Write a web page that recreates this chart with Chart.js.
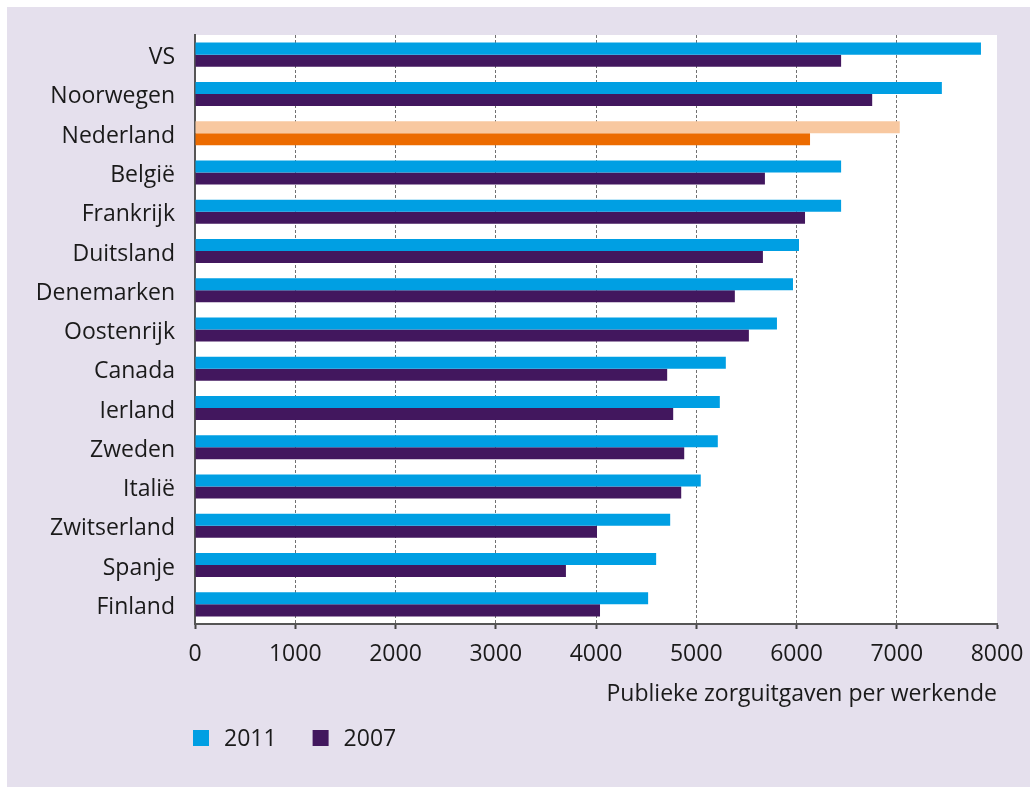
<!DOCTYPE html>
<html lang="nl">
<head>
  <meta charset="UTF-8">
  <title>Publieke zorguitgaven per werkende</title>
  <script src="https://cdn.jsdelivr.net/npm/chart.js"></script>
  <style>
    body {
      margin: 0;
      background: #fff;
      font-family: 'Open Sans', sans-serif;
    }

    /* lavender panel behind the chart */
    .panel {
      position: absolute;
      left: 7px;
      top: 7px;
      width: 1023px;
      height: 780px;
      background: #e5e0ed;
    }
  </style>
</head>
<body>
  <div class="panel">
    <canvas id="chart"></canvas>
  </div>

  <script>
    const countries = ['VS', 'Noorwegen', 'Nederland', 'België', 'Frankrijk', 'Duitsland', 'Denemarken',
      'Oostenrijk', 'Canada', 'Ierland', 'Zweden', 'Italië', 'Zwitserland', 'Spanje', 'Finland'];
    const values2011 = [7840, 7450, 7030, 6445, 6445, 6025, 5965, 5805, 5295, 5235, 5215, 5045, 4740, 4600, 4520];
    const values2007 = [6445, 6755, 6135, 5685, 6085, 5665, 5385, 5525, 4710, 4770, 4880, 4850, 4010, 3700, 4040];
    const axisTitle = 'Publieke zorguitgaven per werkende';
    const highlight = 'Nederland';

    const blue = '#009fe3', purple = '#42175e';
    const peach = '#f8c8a0', orange = '#ec6b00';
    const textColor = '#1a1a1a';
    const font = { family: "'Open Sans', sans-serif", size: 23 };

    // white plot area
    const plotBackground = {
      id: 'plotBackground',
      beforeDraw(chart) {
        const { ctx, chartArea: a } = chart;
        ctx.save();
        ctx.fillStyle = '#fff';
        ctx.fillRect(a.left, a.top, a.right - a.left, a.bottom - a.top);
        ctx.restore();
      }
    };

    // legend below the axis title, starting at the y axis
    const bottomLegend = {
      id: 'bottomLegend',
      afterDraw(chart) {
        const { ctx, chartArea: a } = chart;
        let x = a.left - 2;
        const y = a.bottom + 114;
        ctx.save();
        ctx.font = `${font.size}px ${font.family}`;
        ctx.textBaseline = 'middle';
        chart.data.datasets.forEach(ds => {
          ctx.fillStyle = ds.legendColor;
          ctx.fillRect(x, y - 8, 16, 16);
          ctx.fillStyle = textColor;
          ctx.fillText(ds.label, x + 31, y + 1);
          x += 31 + ctx.measureText(ds.label).width + 36;
        });
        ctx.restore();
      }
    };

    new Chart(document.getElementById('chart'), {
      type: 'bar',
      data: {
        labels: countries,
        datasets: [{
          label: '2011',
          data: values2011,
          legendColor: blue,
          backgroundColor: countries.map(c => c === highlight ? peach : blue)
        }, {
          label: '2007',
          data: values2007,
          legendColor: purple,
          backgroundColor: countries.map(c => c === highlight ? orange : purple)
        }]
      },
      options: {
        indexAxis: 'y',
        responsive: true,
        maintainAspectRatio: false,
        animation: false,
        categoryPercentage: 0.612,
        barPercentage: 1,
        layout: { padding: { top: 28, right: 33, left: 0, bottom: 73 } },
        plugins: {
          legend: { display: false },
          tooltip: { enabled: false }
        },
        scales: {
          x: {
            min: 0,
            max: 8000,
            afterFit(scale) {
              scale.height = 90;
              scale.paddingLeft = 0;
              scale.paddingRight = 0;
            },
            ticks: {
              stepSize: 1000,
              font: font,
              color: textColor,
              padding: 12,
              maxRotation: 0,
              callback: v => String(v)
            },
            grid: {
              color: c => (c.tick && (c.tick.value === 0 || c.tick.value === 8000)) ? 'rgba(0,0,0,0)' : '#707070',
              lineWidth: 1,
              tickColor: '#444',
              tickLength: 5,
              tickWidth: 2
            },
            border: { color: '#555', width: 2, dash: [3, 2] },
            title: {
              display: true,
              text: axisTitle,
              align: 'end',
              font: font,
              color: textColor,
              padding: { top: 0, bottom: 6 }
            }
          },
          y: {
            afterFit(scale) {
              scale.width = 188;
              scale.paddingTop = 0;
              scale.paddingBottom = 0;
            },
            ticks: { font: font, color: textColor, padding: 12, labelOffset: 3 },
            grid: { display: false },
            border: { color: '#555', width: 2 }
          }
        }
      },
      plugins: [plotBackground, bottomLegend]
    });
  </script>
</body>
</html>
